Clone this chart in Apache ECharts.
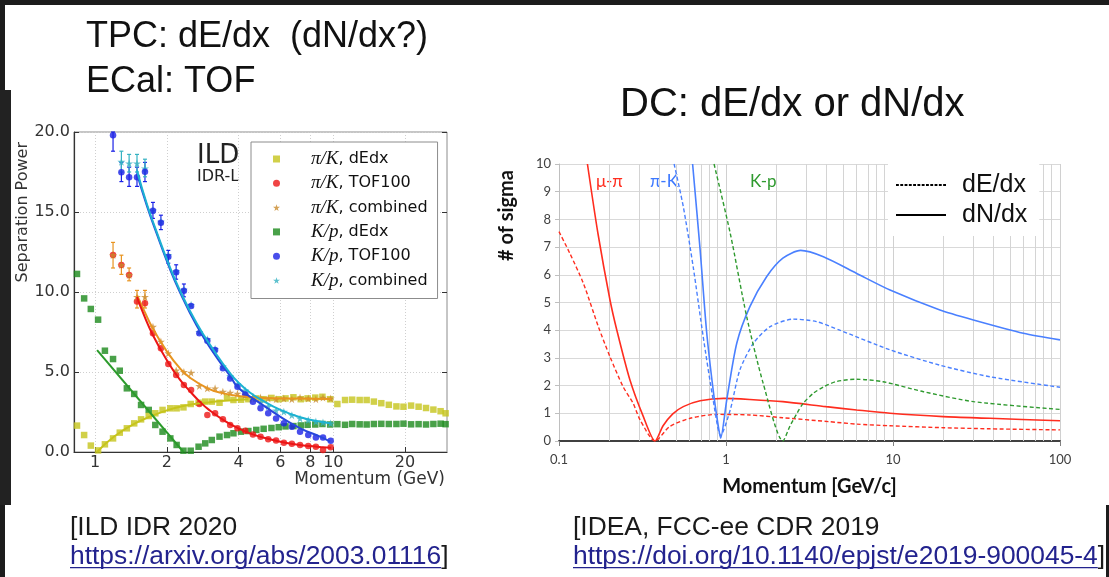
<!DOCTYPE html>
<html>
<head>
<meta charset="utf-8">
<script src="https://cdn.jsdelivr.net/npm/echarts@6/dist/echarts.min.js"></script>
<style>
  html, body { margin: 0; padding: 0; background: #fff; }
  #c { width: 1109px; height: 577px; }
</style>
</head>
<body>
<div id="c"></div>
<script>
// ---------- ILD panel: separation power vs momentum (GeV) ----------
const ildTickMomenta = [1, 2, 4, 6, 8, 10, 20];
const ildLegendNames = ['π/K, dEdx', 'π/K, TOF100', 'π/K, combined', 'K/p, dEdx', 'K/p, TOF100', 'K/p, combined'];

// dE/dx bins
const ildDedxMomenta = [0.84, 0.90, 0.96, 1.03, 1.10, 1.19, 1.27, 1.36, 1.46, 1.56, 1.68, 1.79, 1.92, 2.07, 2.20,
  2.35, 2.52, 2.72, 2.90, 3.09, 3.33, 3.58, 3.81, 4.10, 4.40, 4.75, 5.10, 5.50, 5.90, 6.30, 6.80, 7.30, 7.80, 8.40,
  9.00, 9.70, 10.4, 11.2, 12.0, 12.9, 13.8, 14.8, 15.9, 17.1, 18.4, 19.7, 21.2, 22.8, 24.5, 26.3, 28.2, 29.6];
const ildPiKDedx = [1.65, 1.06, 0.40, 0.10, 0.48, 0.85, 1.21, 1.48, 1.79, 2.04, 2.25, 2.42, 2.63, 2.73, 2.73,
  2.79, 3.00, 3.08, 3.15, 3.15, 3.08, 3.40, 3.25, 3.27, 3.30, 3.35, 3.30, 3.38, 3.30, 3.35, 3.42, 3.30, 3.35, 3.40,
  3.45, 3.30, 3.00, 3.25, 3.27, 3.25, 3.25, 3.15, 3.05, 2.95, 2.85, 2.83, 2.90, 2.83, 2.75, 2.65, 2.55, 2.42];
const ildKpDedx = [11.13, 9.60, 8.94, 8.27, 6.33, 5.81, 5.08, 3.98, 3.63, 2.94, 2.63, 1.69, 1.27, 0.85, 0.44,
  0.08, 0.08, 0.33, 0.54, 0.75, 0.96, 1.06, 1.17, 1.27, 1.31, 1.38, 1.45, 1.50, 1.55, 1.60, 1.62, 1.66, 1.70, 1.72,
  1.75, 1.72, 1.74, 1.70, 1.75, 1.73, 1.72, 1.75, 1.76, 1.75, 1.75, 1.77, 1.73, 1.74, 1.72, 1.75, 1.77, 1.74];

// TOF bins
const ildTofMomenta = [1.19, 1.29, 1.39, 1.50, 1.62, 1.75, 1.89, 2.03, 2.19, 2.36, 2.53, 2.74, 2.96, 3.19, 3.44,
  3.69, 3.96, 4.27, 4.60, 4.95, 5.33, 5.75, 6.20, 6.70, 7.25, 7.85, 8.45, 9.05, 9.75];
const ildPiKTof = [12.31, 11.69, 11.06, 9.40, 9.30, 7.42, 6.48, 5.50, 4.81, 4.19, 3.88, 3.00, 2.31, 2.42, 2.04,
  1.69, 1.48, 1.33, 1.10, 0.95, 0.80, 0.72, 0.58, 0.52, 0.44, 0.38, 0.33, 0.13, 0.29];
const ildPiKComb = [12.31, 11.69, 11.06, 9.70, 9.70, 7.83, 6.90, 6.17, 5.10, 5.00, 4.96, 4.13, 3.98, 3.98, 3.77,
  3.71, 3.65, 3.58, 3.45, 3.40, 3.35, 3.30, 3.35, 3.30, 3.40, 3.35, 3.30, 3.40, 3.35];
const ildKpTof = [19.80, 17.48, 17.17, 17.17, 17.52, 15.08, 14.33, 12.21, 11.23, 10.08, 9.13, 7.42, 6.96, 6.38, 5.23,
  4.60, 4.08, 3.60, 3.14, 2.73, 2.42, 2.10, 1.79, 1.58, 1.27, 1.06, 0.90, 0.90, 0.71];
const ildKpComb = [null, 18.14, 18.04, 18.04, 17.73, 15.10, 14.40, 12.30, 11.30, 10.15, 9.20, 7.50, 7.05, 6.45, 5.35,
  4.75, 4.25, 3.85, 3.45, 3.10, 2.85, 2.60, 2.52, 2.30, 2.10, 2.00, 1.90, 1.85, 1.79];

// fitted curves
const ildPiKDedxFitP = [1.02, 1.20, 1.50, 2.00, 2.50, 3.00, 3.50, 4.40];
const ildPiKDedxFit  = [0.00, 0.95, 1.85, 2.60, 2.95, 3.10, 3.20, 3.30];
const ildKpDedxFitP  = [1.02, 2.35];
const ildKpDedxFit   = [6.37, 0.00];
const ildPiKTofFitP  = [1.50, 1.60, 1.75, 2.00, 2.25, 2.50, 2.75, 3.00, 3.50, 4.00, 4.50, 5.00, 6.00, 7.00, 8.00, 9.00, 9.80];
const ildPiKTofFit   = [9.70, 8.60, 7.30, 5.75, 4.60, 3.80, 3.15, 2.65, 1.95, 1.48, 1.15, 0.93, 0.64, 0.47, 0.37, 0.30, 0.26];
const ildPiKCombFitP = [1.50, 1.60, 1.75, 2.00, 2.25, 2.50, 3.00, 3.50, 4.00, 5.00, 6.00, 8.00, 9.80];
const ildPiKCombFit  = [9.80, 8.90, 7.70, 6.30, 5.30, 4.65, 3.95, 3.65, 3.50, 3.38, 3.35, 3.33, 3.32];
const ildKpTofFitP   = [1.50, 1.65, 1.82, 2.03, 2.27, 2.67, 3.14, 3.69, 4.00, 4.94, 6.00, 7.27, 8.80, 9.70];
const ildKpTofFit    = [17.40, 15.40, 13.60, 11.70, 10.00, 7.90, 6.20, 4.75, 4.00, 3.04, 2.20, 1.48, 0.96, 0.65];
const ildKpCombFitP  = [1.50, 1.65, 1.82, 2.03, 2.27, 2.67, 3.14, 3.69, 4.06, 4.48, 4.94, 6.00, 7.27, 8.80, 9.70];
const ildKpCombFit   = [17.60, 15.50, 13.70, 11.80, 10.10, 8.04, 6.38, 4.92, 4.25, 3.70, 3.30, 2.63, 2.17, 1.90, 1.79];

// error bars on the low-momentum points
const ildKpTofErrP  = [1.19, 1.29, 1.39, 1.50, 1.62, 1.75, 1.89, 2.03, 2.19, 2.36];
const ildKpTofErrLo = [18.8, 16.9, 16.6, 16.6, 16.9, 14.6, 13.9, 11.8, 10.8, 9.7];
const ildKpTofErrHi = [20.0, 18.1, 17.8, 17.8, 18.1, 15.6, 14.8, 12.6, 11.7, 10.5];
const ildKpCombErrP  = [1.29, 1.39, 1.50, 1.62];
const ildKpCombErrLo = [17.5, 17.5, 17.5, 17.2];
const ildKpCombErrHi = [18.8, 18.6, 18.6, 18.3];
const ildPiKErrP  = [1.19, 1.29, 1.39, 1.50, 1.62];
const ildPiKErrLo = [11.5, 11.1, 10.7, 9.0, 9.0];
const ildPiKErrHi = [13.1, 12.3, 11.5, 10.1, 10.1];

// ---------- IDEA panel: number of sigma vs momentum (GeV/c) ----------
const ideaTickLabels = ['0.1', '1', '10', '100'];
const ideaMinorGrid = [0.2, 0.3, 0.4, 0.5, 0.6, 0.7, 0.8, 0.9, 2, 3, 4, 5, 6, 7, 8, 9, 20, 30, 40, 50, 60, 70, 80, 90];
const ideaLegendNames = ['dE/dx', 'dN/dx'];
const ideaCurveLabels = ['μ-π', 'π-K', 'K-p'];

const ideaMuPiDedxP = [0.100, 0.116, 0.140, 0.172, 0.202, 0.242, 0.278, 0.306, 0.376, 0.46, 0.61, 0.88, 1.39, 2.19, 4.1, 6.06, 9.6, 20, 38, 100];
const ideaMuPiDedx  = [7.56, 6.78, 5.69, 4.13, 3.04, 1.96, 1.36, 0.76, 0.00, 0.52, 0.82, 0.96, 0.94, 0.84, 0.70, 0.61, 0.55, 0.48, 0.44, 0.40];
const ideaMuPiDndxP = [0.148, 0.171, 0.202, 0.222, 0.266, 0.320, 0.376, 0.42, 0.48, 0.555, 0.70, 0.97, 1.39, 2.19, 3.97, 6.06, 9.6, 20, 38, 100];
const ideaMuPiDndx  = [10.0, 7.5, 5.09, 4.0, 2.2, 0.88, 0.0, 0.55, 0.98, 1.24, 1.45, 1.54, 1.50, 1.42, 1.24, 1.12, 1.00, 0.88, 0.82, 0.73];
const ideaPiKDedxP  = [0.489, 0.555, 0.636, 0.73, 0.838, 0.929, 1.06, 1.21, 1.46, 1.84, 2.53, 3.48, 4.8, 9.6, 19, 38, 100];
const ideaPiKDedx   = [10.0, 8.46, 6.29, 3.77, 1.48, 0.2, 1.12, 2.56, 3.53, 4.13, 4.40, 4.31, 4.0, 3.29, 2.74, 2.32, 1.94];
const ideaPiKDndxP  = [0.631, 0.70, 0.764, 0.838, 0.90, 0.929, 1.01, 1.16, 1.39, 1.75, 2.19, 2.8, 3.83, 6.06, 9.6, 19.1, 30.3, 60.3, 100];
const ideaPiKDndx   = [10.0, 6.9, 4.0, 1.84, 0.52, 0.1, 1.48, 3.53, 4.85, 5.93, 6.6, 6.88, 6.65, 6.05, 5.45, 4.73, 4.37, 3.89, 3.65];
const ideaKpDedxP   = [0.848, 1.06, 1.33, 1.67, 2.19, 2.42, 2.66, 2.9, 3.33, 3.85, 4.6, 6.06, 8.7, 15.2, 30.4, 100];
const ideaKpDedx    = [10.0, 7.5, 4.49, 2.08, 0.0, 0.55, 1.0, 1.36, 1.72, 1.96, 2.15, 2.23, 2.14, 1.78, 1.42, 1.14];

// ---------- helpers ----------
const lg = Math.log10;
const pts = (ps, vs) => ps.map((p, i) => [lg(p), vs[i] == null ? null : vs[i]]);
const STAR = 'path://M50,0 L61,35 L98,35 L68,57 L79,91 L50,70 L21,91 L32,57 L2,35 L39,35 Z';

// legend line samples: a solid bar and a row of short dashes
const SOLID_ICON = 'path://M0,0h50v2h-50z';
let dashPath = '';
for (let x = 0; x < 50; x += 4.5) dashPath += 'M' + x + ',0h3v2h-3z';
const DASH_ICON = 'path://' + dashPath;

const C = {
  yellow: '#c6c41c', red: '#ec1515', orange: '#c98a2c', orangeLine: '#e89420',
  green: '#1b8a1b', greenLine: '#2b9b2b', blue: '#1b22e6', blueLine: '#2746dc',
  cyan: '#35b2c2', cyanLine: '#1cb2d2',
  iRed: '#ff2d1f', iBlue: '#4a80ff', iGreen: '#2f9a2f'
};

function ildScatter(name, ps, vs, symbol, size, color, z) {
  return { name, type: 'scatter', xAxisIndex: 0, yAxisIndex: 0, data: pts(ps, vs),
    symbol, symbolSize: size, itemStyle: { color }, z, silent: true };
}
function ildFit(name, ps, vs, color) {
  return { name, type: 'line', xAxisIndex: 0, yAxisIndex: 0, data: pts(ps, vs), smooth: 0.5,
    symbol: 'none', lineStyle: { color, width: 2 }, z: 6, silent: true };
}
function ildErrors(name, ps, lo, hi, color) {
  return {
    name, type: 'custom', xAxisIndex: 0, yAxisIndex: 0, silent: true, z: 3,
    data: ps.map((p, i) => [lg(p), lo[i], hi[i]]),
    renderItem(params, api) {
      const x = api.value(0);
      const a = api.coord([x, api.value(1)]);
      const b = api.coord([x, api.value(2)]);
      const st = { stroke: color, lineWidth: 1.2 };
      return { type: 'group', children: [
        { type: 'line', shape: { x1: a[0], y1: a[1], x2: b[0], y2: b[1] }, style: st },
        { type: 'line', shape: { x1: a[0] - 2, y1: a[1], x2: a[0] + 2, y2: a[1] }, style: st },
        { type: 'line', shape: { x1: b[0] - 2, y1: b[1], x2: b[0] + 2, y2: b[1] }, style: st }
      ] };
    }
  };
}
function ideaCurve(name, ps, vs, color, dashed) {
  return { name, type: 'line', xAxisIndex: 1, yAxisIndex: 2, data: pts(ps, vs), smooth: 0.25,
    symbol: 'none', silent: true, z: 3,
    lineStyle: { color, width: dashed ? 1.4 : 1.6, type: dashed ? [4, 2.5] : 'solid' } };
}

// ---------- text measurement for the reference underlines ----------
const measureCtx = document.createElement('canvas').getContext('2d');
function textWidth(text, font) { measureCtx.font = font; return measureCtx.measureText(text).width; }

const refFont = '26.4px "Liberation Sans"';
const refs = [
  { x: 70, title: '[ILD IDR 2020', url: 'https://arxiv.org/abs/2003.01116', tail: ']' },
  { x: 573, title: '[IDEA, FCC-ee CDR 2019', url: 'https://doi.org/10.1140/epjst/e2019-900045-4', tail: ']' }
];
const refGraphics = [];
refs.forEach(r => {
  const w = textWidth(r.url, refFont);
  refGraphics.push(
    { type: 'text', style: { x: r.x, y: 528, text: r.title, font: refFont, fill: '#1a1a1a', verticalAlign: 'middle' } },
    { type: 'text', style: { x: r.x, y: 557, text: r.url, font: refFont, fill: '#23238e', verticalAlign: 'middle' } },
    { type: 'text', style: { x: r.x + w, y: 557, text: r.tail, font: refFont, fill: '#1a1a1a', verticalAlign: 'middle' } },
    { type: 'rect', shape: { x: r.x, y: 567, width: w, height: 1.3 }, style: { fill: '#23238e' } }
  );
});

const chart = echarts.init(document.getElementById('c'), null, { renderer: 'canvas', width: 1109, height: 577 });

const dotted = { color: '#cfcfcf', type: [1, 2], width: 1 };
const ildAxisFont = { fontFamily: 'DejaVu Sans', fontSize: 16, color: '#333' };

chart.setOption({
  animation: false,
  backgroundColor: '#ffffff',
  grid: [
    { left: 74, top: 132, width: 373, height: 320, show: true, borderColor: '#8c8c8c', borderWidth: 1, backgroundColor: 'transparent' },
    { left: 559, top: 164, width: 501, height: 277 }
  ],
  xAxis: [
    {
      gridIndex: 0, type: 'value', min: lg(0.816), max: lg(30), position: 'bottom',
      axisLine: { show: true, onZero: false, lineStyle: { color: '#333', width: 1.2 } },
      axisTick: { show: true, inside: true, length: 5, customValues: ildTickMomenta.map(p => lg(p)), lineStyle: { color: '#333' } },
      axisLabel: { ...ildAxisFont, margin: 3, customValues: ildTickMomenta.map(p => lg(p)),
        formatter: v => String(Math.round(Math.pow(10, v))) },
      splitLine: { show: true, lineStyle: dotted },
      name: 'Momentum (GeV)', nameLocation: 'end', nameGap: -2,
      nameTextStyle: { fontFamily: 'DejaVu Sans', fontSize: 17, color: '#333', align: 'right', verticalAlign: 'top', padding: [19, 0, 0, 0] }
    },
    {
      gridIndex: 1, type: 'value', min: -1, max: 2, interval: 1, position: 'bottom',
      axisLine: { show: true, onZero: false, lineStyle: { color: '#404040', width: 2 } },
      axisTick: { show: true, length: 5, lineStyle: { color: '#808080' } },
      axisLabel: { fontFamily: 'Lato', fontSize: 13, color: '#404040', margin: 12,
        formatter: v => ideaTickLabels[Math.round(v) + 1] },
      splitLine: { show: true, lineStyle: { color: '#d0d0d0', width: 1 } },
      name: 'Momentum [GeV/c]', nameLocation: 'middle', nameGap: 36,
      nameTextStyle: { fontFamily: 'Lato', fontWeight: 'bold', fontSize: 20, color: '#111' }
    }
  ],
  yAxis: [
    {
      gridIndex: 0, type: 'value', min: 0, max: 20, interval: 5, position: 'left',
      axisLine: { show: true, onZero: false, lineStyle: { color: '#333', width: 1.2 } },
      axisTick: { show: true, inside: true, length: 5, lineStyle: { color: '#333' } },
      axisLabel: { ...ildAxisFont, margin: 4, formatter: v => v.toFixed(1) },
      splitLine: { show: true, lineStyle: dotted }
    },
    {
      gridIndex: 0, type: 'value', min: 0, max: 20, interval: 5, position: 'right',
      axisLine: { show: false, onZero: false },
      axisTick: { show: true, inside: true, length: 5, lineStyle: { color: '#333' } },
      axisLabel: { show: false }, splitLine: { show: false }
    },
    {
      gridIndex: 1, type: 'value', min: 0, max: 10, interval: 1,
      axisLine: { show: true, onZero: false, lineStyle: { color: '#bfbfbf' } },
      axisTick: { show: true, length: 4, lineStyle: { color: '#bfbfbf' } },
      axisLabel: { fontFamily: 'Lato', fontSize: 13, color: '#404040', margin: 8 },
      splitLine: { show: true, lineStyle: { color: '#d9d9d9', width: 1 } }
    }
  ],
  legend: [
    {
      orient: 'vertical', left: 251, top: 142, padding: [7, 10, 8, 22], itemGap: 4.3,
      itemWidth: 7, itemHeight: 7, backgroundColor: '#fff', borderColor: '#8c8c8c', borderWidth: 1,
      selectedMode: false,
      data: [
        { name: ildLegendNames[0], icon: 'rect' },
        { name: ildLegendNames[1], icon: 'circle' },
        { name: ildLegendNames[2], icon: STAR },
        { name: ildLegendNames[3], icon: 'rect' },
        { name: ildLegendNames[4], icon: 'circle' },
        { name: ildLegendNames[5], icon: STAR }
      ],
      formatter: name => { const [a, b] = name.split(', '); return '{m|' + a + '}{t|, ' + b + '}'; },
      textStyle: {
        padding: [0, 0, 0, 26], lineHeight: 20,
        rich: {
          m: { fontFamily: 'Liberation Serif', fontStyle: 'italic', fontSize: 19, color: '#111', lineHeight: 20 },
          t: { fontFamily: 'DejaVu Sans', fontSize: 16, color: '#111', lineHeight: 20 }
        }
      }
    },
    {
      orient: 'vertical', left: 888, top: 164, padding: [7, 12, 7, 8], itemGap: 2,
      itemWidth: 50, itemHeight: 2, backgroundColor: '#fff', selectedMode: false,
      data: [
        { name: ideaLegendNames[0], icon: DASH_ICON },
        { name: ideaLegendNames[1], icon: SOLID_ICON }
      ],
      itemStyle: { color: '#000' },
      textStyle: { fontFamily: 'Liberation Sans', fontSize: 25, color: '#111', lineHeight: 28, padding: [0, 0, 0, 11] }
    }
  ],
  series: [
    // ILD measured points
    ildScatter(ildLegendNames[3], ildDedxMomenta, ildKpDedx, 'rect', 6.5, C.green, 2),
    ildScatter(ildLegendNames[0], ildDedxMomenta, ildPiKDedx, 'rect', 6.5, C.yellow, 2),
    ildScatter(ildLegendNames[1], ildTofMomenta, ildPiKTof, 'circle', 6.5, C.red, 3),
    ildScatter(ildLegendNames[2], ildTofMomenta, ildPiKComb, STAR, 8, C.orange, 4),
    ildScatter(ildLegendNames[5], ildTofMomenta, ildKpComb, STAR, 8, C.cyan, 4),
    ildScatter(ildLegendNames[4], ildTofMomenta, ildKpTof, 'circle', 6.5, C.blue, 5),
    ildErrors('K/p TOF100 errors', ildKpTofErrP, ildKpTofErrLo, ildKpTofErrHi, C.blue),
    ildErrors('K/p combined errors', ildKpCombErrP, ildKpCombErrLo, ildKpCombErrHi, C.cyan),
    ildErrors('π/K errors', ildPiKErrP, ildPiKErrLo, ildPiKErrHi, C.orangeLine),
    // ILD fits
    ildFit('π/K dEdx fit', ildPiKDedxFitP, ildPiKDedxFit, C.yellow),
    ildFit('K/p dEdx fit', ildKpDedxFitP, ildKpDedxFit, C.greenLine),
    ildFit('π/K combined fit', ildPiKCombFitP, ildPiKCombFit, C.orangeLine),
    ildFit('π/K TOF100 fit', ildPiKTofFitP, ildPiKTofFit, C.red),
    ildFit('K/p TOF100 fit', ildKpTofFitP, ildKpTofFit, C.blueLine),
    ildFit('K/p combined fit', ildKpCombFitP, ildKpCombFit, C.cyanLine),
    // IDEA minor log grid
    {
      name: 'minor grid', type: 'line', xAxisIndex: 1, yAxisIndex: 2, data: [], silent: true,
      markLine: {
        silent: true, z: 1, symbol: ['none', 'none'], label: { show: false },
        lineStyle: { color: '#d4d4d4', type: 'solid', width: 1 }, emphasis: { disabled: true },
        data: ideaMinorGrid.map(p => ({ xAxis: lg(p) }))
      }
    },
    // IDEA legend entries (line style key only)
    { name: ideaLegendNames[0], type: 'line', xAxisIndex: 1, yAxisIndex: 2, data: [], symbol: 'none',
      itemStyle: { color: '#000' }, lineStyle: { color: '#000', width: 2, type: [3, 1.5] } },
    { name: ideaLegendNames[1], type: 'line', xAxisIndex: 1, yAxisIndex: 2, data: [], symbol: 'none',
      itemStyle: { color: '#000' }, lineStyle: { color: '#000', width: 2 } },
    // IDEA curves
    ideaCurve('μ-π dE/dx', ideaMuPiDedxP, ideaMuPiDedx, C.iRed, true),
    ideaCurve('μ-π dN/dx', ideaMuPiDndxP, ideaMuPiDndx, C.iRed, false),
    ideaCurve('π-K dE/dx', ideaPiKDedxP, ideaPiKDedx, C.iBlue, true),
    ideaCurve('π-K dN/dx', ideaPiKDndxP, ideaPiKDndx, C.iBlue, false),
    ideaCurve('K-p dE/dx', ideaKpDedxP, ideaKpDedx, C.iGreen, true)
  ],
  graphic: [
    // slide frame
    { type: 'rect', shape: { x: 0, y: 0, width: 1109, height: 5 }, style: { fill: '#1c1c1c' }, z: 100 },
    { type: 'rect', shape: { x: 0, y: 0, width: 5, height: 577 }, style: { fill: '#1c1c1c' }, z: 100 },
    { type: 'rect', shape: { x: 0, y: 90, width: 11, height: 415 }, style: { fill: '#222' }, z: 100 },
    { type: 'rect', shape: { x: 1106, y: 505, width: 3, height: 72 }, style: { fill: '#1c1c1c' }, z: 100 },
    // headings
    { type: 'text', style: { x: 86, y: 37, text: 'TPC: dE/dx  (dN/dx?)', font: '36px "Liberation Sans"', fill: '#111', verticalAlign: 'middle' } },
    { type: 'text', style: { x: 86, y: 82, text: 'ECal: TOF', font: '36px "Liberation Sans"', fill: '#111', verticalAlign: 'middle' } },
    { type: 'text', style: { x: 620, y: 105, text: 'DC: dE/dx or dN/dx', font: '40px "Liberation Sans"', fill: '#111', verticalAlign: 'middle' } },
    // ILD panel annotations
    { type: 'text', style: { x: 197, y: 156, text: 'ILD', font: '26px "DejaVu Sans"', fill: '#222', verticalAlign: 'middle' } },
    { type: 'text', style: { x: 197, y: 177, text: 'IDR-L', font: '16px "DejaVu Sans"', fill: '#222', verticalAlign: 'middle' } },
    { type: 'text', x: 23, y: 142, rotation: Math.PI / 2,
      style: { x: 0, y: 0, text: 'Separation Power', font: '16px "DejaVu Sans"', fill: '#333', align: 'right', verticalAlign: 'middle' } },
    // IDEA panel annotations
    { type: 'text', x: 507, y: 170, rotation: Math.PI / 2,
      style: { x: 0, y: 0, text: '# of sigma', font: 'bold 20px Lato', fill: '#111', align: 'right', verticalAlign: 'middle' } },
    { type: 'text', style: { x: 596, y: 182, text: ideaCurveLabels[0], font: '17px Lato', fill: C.iRed, verticalAlign: 'middle' } },
    { type: 'text', style: { x: 650, y: 182, text: ideaCurveLabels[1], font: '17px Lato', fill: '#3c78ff', verticalAlign: 'middle' } },
    { type: 'text', style: { x: 750, y: 182, text: ideaCurveLabels[2], font: '17px Lato', fill: C.iGreen, verticalAlign: 'middle' } },
    ...refGraphics
  ]
});
</script>
</body>
</html>
